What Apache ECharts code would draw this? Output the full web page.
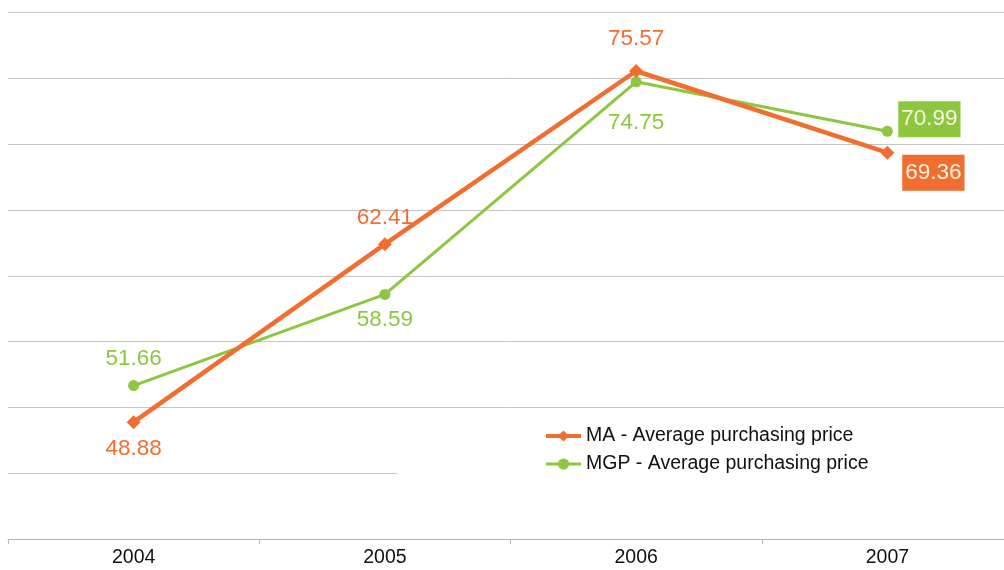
<!DOCTYPE html>
<html>
<head>
<meta charset="utf-8">
<script src="https://cdn.jsdelivr.net/npm/echarts@6/dist/echarts.min.js"></script>
<style>
  html, body { margin: 0; padding: 0; background: #fff; overflow: hidden; }
  #main { width: 1013px; height: 570px; }
</style>
</head>
<body>
<div id="main"></div>
<script>
  // categories and values
  var years = ['2004', '2005', '2006', '2007']
  var maPrice = [48.88, 62.41, 75.57, 69.36]
  var mgpPrice = [51.66, 58.59, 74.75, 70.99]

  var orange = '#f26d30'
  var green = '#8dc63f'
  var font = 'Liberation Sans, Arial, sans-serif'

  // label placement per point: [dx, dy] around the symbol
  var maOffsets = [[0, 27], [0, -26], [0, -32], [46, 20]]
  var mgpOffsets = [[0, -27], [0, 25], [0, 41], [42, -12]]

  function buildData (values, offsets, color) {
    return values.map(function (v, i) {
      var last = i === values.length - 1
      return {
        value: v,
        label: {
          show: true,
          position: 'inside',
          offset: offsets[i],
          formatter: function (p) { return p.value.toFixed(2) },
          color: last ? '#f8f4e3' : color,
          backgroundColor: last ? color : 'transparent',
          padding: last ? [7, 3, 6, 3] : 0,
          fontSize: 22.5,
          fontFamily: font
        }
      }
    })
  }

  // the plot runs a little past the right edge of the window
  var myChart = echarts.init(document.getElementById('main'))
  var option = {
    animation: false,
    grid: { left: 8, right: 0, top: 12.7, bottom: 31, containLabel: false },
    legend: {
      orient: 'vertical',
      left: 397,
      top: 413,
      padding: [13, 140, 33, 147],
      itemGap: 8,
      itemWidth: 35,
      itemHeight: 14,
      backgroundColor: '#fff',
      textStyle: { fontSize: 19.5, color: '#111', fontFamily: font },
      data: [
        { name: 'MA - Average purchasing price', lineStyle: { width: 4 } },
        { name: 'MGP - Average purchasing price', lineStyle: { width: 3 } }
      ]
    },
    xAxis: {
      type: 'category',
      data: years,
      boundaryGap: true,
      axisLine: { lineStyle: { color: '#b8b8b8', width: 1 } },
      axisTick: { show: true, length: 5, lineStyle: { color: '#b8b8b8' } },
      axisLabel: { color: '#111', fontSize: 19.5, margin: 9, fontFamily: font }
    },
    yAxis: {
      type: 'value',
      min: 40,
      max: 80,
      interval: 5,
      axisLabel: { show: false },
      axisLine: { show: false },
      axisTick: { show: false },
      splitLine: { lineStyle: { color: '#c6c6c6', width: 1 } }
    },
    series: [{
      name: 'MA - Average purchasing price',
      type: 'line',
      symbol: 'diamond',
      symbolSize: 14,
      z: 3,
      itemStyle: { color: orange },
      lineStyle: { color: orange, width: 4.5 },
      data: buildData(maPrice, maOffsets, orange)
    }, {
      name: 'MGP - Average purchasing price',
      type: 'line',
      symbol: 'circle',
      symbolSize: 11,
      z: 2,
      itemStyle: { color: green },
      lineStyle: { color: green, width: 3 },
      data: buildData(mgpPrice, mgpOffsets, green)
    }]
  }
  myChart.setOption(option)
</script>
</body>
</html>
